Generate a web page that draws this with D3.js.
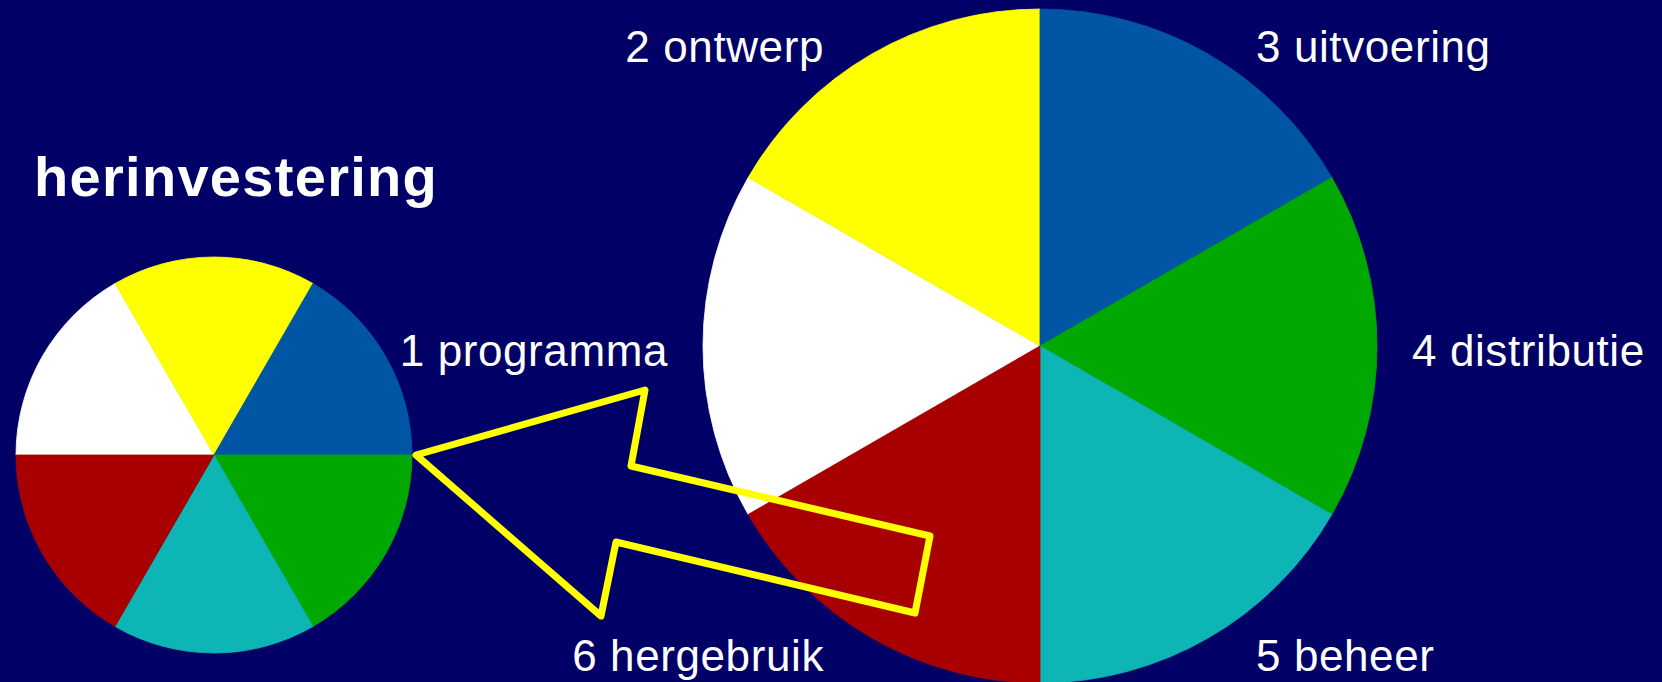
<!DOCTYPE html>
<html lang="nl">
<head>
    <meta charset='utf-8'>
    <title>herinvestering</title>
    <script src="https://cdn.jsdelivr.net/npm/d3@7"></script>
    <style>
        body { margin: 0; background: #000066; }
        svg { display: block; font-family: "Liberation Sans", Arial, sans-serif; }
    </style>
</head>
<body>
<svg></svg>
<script>
    // the six phases, all the same size
    const phases = ["1 programma", "2 ontwerp", "3 uitvoering", "4 distributie", "5 beheer", "6 hergebruik"]
    const shares = [1, 1, 1, 1, 1, 1]
    const phaseColors = ["#ffffff", "#ffff00", "#0055a5", "#00a800", "#0db5b5", "#a80000"]
    const title = "herinvestering"

    // outline of the yellow arrow (annotation, small pie <- big pie)
    const arrowOutline = [[416, 455], [645, 390], [631, 466], [930, 536], [915, 613], [616, 542], [601, 616]]

    const width = 1662
    const height = 682

    const color = d3.scaleOrdinal(phases, phaseColors)
    const data = phases.map((name, i) => ({name, value: shares[i]}))

    const svg = d3.select("svg")
        .attr("width", width)
        .attr("height", height)
        .attr("viewBox", [0, 0, width, height])

    svg.append("rect")
        .attr("width", width)
        .attr("height", height)
        .attr("fill", "#000066")

    const drawPie = (cx, cy, r, start) => {
        const pie = d3.pie()
            .sort(null)
            .value(d => d.value)
            .startAngle(start)
            .endAngle(start + 2 * Math.PI)
        const arc = d3.arc().innerRadius(0).outerRadius(r)

        const g = svg.append("g")
            .attr("transform", `translate(${cx},${cy})`)

        g.selectAll("path")
            .data(pie(data))
            .join("path")
            .attr("d", arc)
            .attr("fill", d => color(d.data.name))
            .attr("stroke", d => color(d.data.name))
            .attr("stroke-width", 0.8)

        return pie
    }

    // small pie (left)
    drawPie(214, 455, 198, -Math.PI / 2)

    // big pie (right)
    const bigCx = 1040, bigCy = 346, bigR = 337
    const bigPie = drawPie(bigCx, bigCy, bigR, -2 * Math.PI / 3)

    // labels around the big pie
    svg.append("g")
        .attr("fill", "white")
        .attr("font-size", 44)
        .attr("letter-spacing", 0.6)
        .selectAll("text")
        .data(bigPie(data))
        .join("text")
        .each(function (d) {
            const a = (d.startAngle + d.endAngle) / 2
            const s = Math.sin(a)
            const side = Math.abs(s) < 1e-6 ? 0 : Math.sign(s)
            d3.select(this)
                .attr("x", bigCx + 312 * s + side * 60)
                .attr("y", bigCy + 5 - 352 * Math.cos(a))
                .attr("text-anchor", side < 0 ? "end" : "start")
        })
        .attr("dy", "0.35em")
        .text(d => d.data.name)

    // title
    svg.append("text")
        .attr("x", 34)
        .attr("y", 196)
        .attr("fill", "white")
        .attr("font-size", 56)
        .attr("font-weight", "bold")
        .attr("letter-spacing", 1.3)
        .text(title)

    // arrow
    svg.append("path")
        .attr("d", d3.line().curve(d3.curveLinearClosed)(arrowOutline))
        .attr("fill", "none")
        .attr("stroke", "#ffff00")
        .attr("stroke-width", 7)
        .attr("stroke-linejoin", "round")
</script>
</body>
</html>
